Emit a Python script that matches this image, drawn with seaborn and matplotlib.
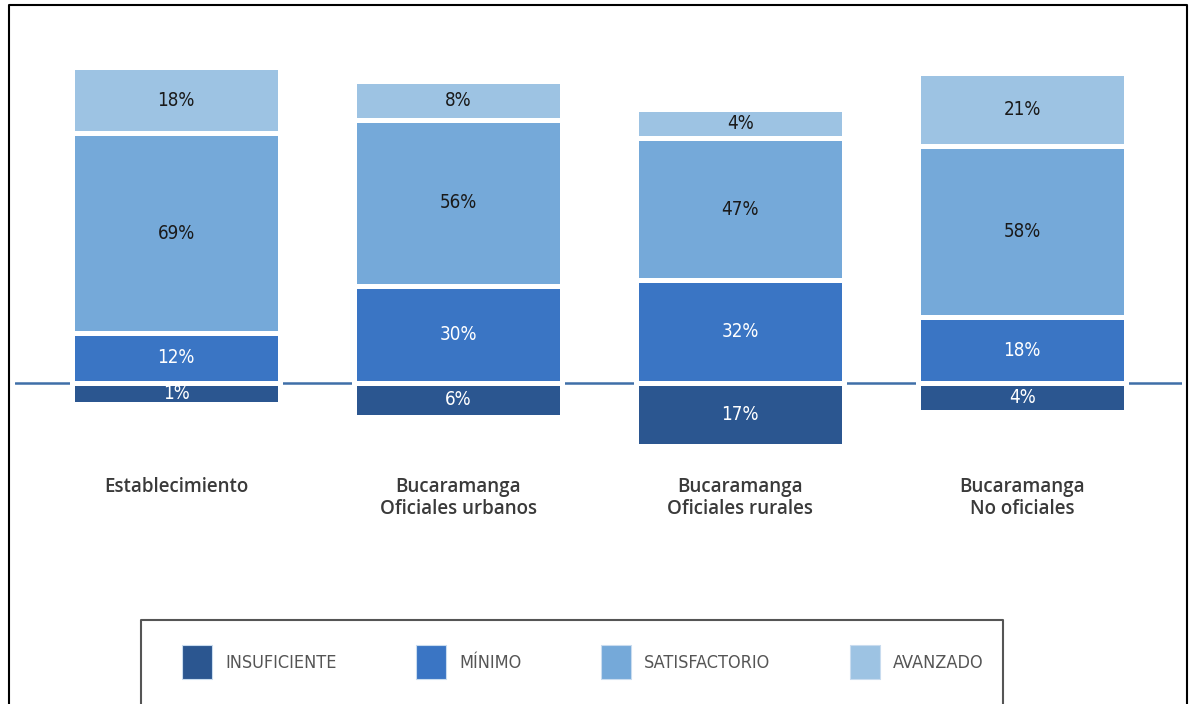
import numpy as np
import pandas as pd
import matplotlib
matplotlib.use("Agg")
import matplotlib.pyplot as plt
import seaborn as sns
from matplotlib import font_manager
from matplotlib.font_manager import FontProperties
from matplotlib.patches import Patch
from matplotlib.lines import Line2D

# ------------------------------------------
# Data (percent of students per level)
# ------------------------------------------
categorias = ["Establecimiento",
              "Bucaramanga\nOficiales urbanos",
              "Bucaramanga\nOficiales rurales",
              "Bucaramanga\nNo oficiales"]
insuficiente = [1, 6, 17, 4]
minimo = [12, 30, 32, 18]
satisfactorio = [69, 56, 47, 58]
avanzado = [18, 8, 4, 21]

niveles = ["INSUFICIENTE", "MÍNIMO", "SATISFACTORIO", "AVANZADO"]
colores = ["#2B5690", "#3A75C4", "#75A9D9", "#9DC3E3"]

# the original chart gives every segment a minimum slot on top of its value
relleno = 7.0

df = pd.DataFrame({
    "cat": categorias,
    "ins": insuficiente,
    "min": minimo,
    "sat": satisfactorio,
    "av": avanzado,
})
df["neg"] = -(df["ins"] + relleno)
df["tope_min"] = df["min"] + relleno
df["tope_sat"] = df["tope_min"] + df["sat"] + relleno
df["tope_av"] = df["tope_sat"] + df["av"] + relleno

# fonts: look for a condensed face for the numbers/legend
archivos = [f.fname for f in font_manager.fontManager.ttflist]
def buscar(clave):
    for a in archivos:
        if clave in a.replace("\\", "/").split("/")[-1]:
            return a
    return None

ruta = buscar("DejaVuSansCondensed.ttf") or buscar("LiberationSansNarrow-Regular")
if ruta:
    fp_num = FontProperties(fname=ruta)
else:
    fp_num = FontProperties(family="Roboto")

nombres = {f.name for f in font_manager.fontManager.ttflist}
etiqueta = "Open Sans" if "Open Sans" in nombres else "DejaVu Sans"

sns.set_theme(style="white")
plt.rcParams["font.family"] = ["DejaVu Sans"]

fig = plt.figure(figsize=(11.91, 7.04), dpi=100)
ax = fig.add_axes([0.0126, 0.3239, 0.98, 0.5945])

ax.axhline(0, color="#3F6FA8", lw=1.8, zorder=0)

kw = dict(width=0.737, edgecolor="white", linewidth=3.6, saturation=1,
          errorbar=None, ax=ax, zorder=2)
sns.barplot(data=df, x="cat", y="tope_av", color=colores[3], **kw)
sns.barplot(data=df, x="cat", y="tope_sat", color=colores[2], **kw)
sns.barplot(data=df, x="cat", y="tope_min", color=colores[1], **kw)
sns.barplot(data=df, x="cat", y="neg", color=colores[0], **kw)

# percentage labels centred in each segment
for i, row in df.iterrows():
    centros = [
        (row["neg"] / 2, row["ins"], "white"),
        (row["tope_min"] / 2, row["min"], "white"),
        ((row["tope_min"] + row["tope_sat"]) / 2, row["sat"], "#1a1a1a"),
        ((row["tope_sat"] + row["tope_av"]) / 2, row["av"], "#1a1a1a"),
    ]
    for y, v, c in centros:
        ax.text(i, y, f"{v}%", ha="center", va="center", color=c,
                fontproperties=fp_num, fontsize=13.5, zorder=5)

ax.set_xlim(-0.571, 3.567)
ax.set_ylim(-35.4, 123.8)
ax.set_xlabel("")
ax.set_ylabel("")
ax.set_yticks([])
for s in ax.spines.values():
    s.set_visible(False)
ax.tick_params(axis="x", length=0, pad=1)
for t in ax.get_xticklabels():
    t.set_fontfamily(etiqueta)
    t.set_fontweight("semibold")
    t.set_fontsize(13.5)
    t.set_color("#3a3a3a")
    t.set_linespacing(1.12)

# legend
fp_ley = fp_num.copy()
fp_ley.set_size(13)
handles = [Patch(facecolor=c, edgecolor="#c9dcef", lw=0.8) for c in colores]
fig.legend(handles, niveles, loc="upper left",
           bbox_to_anchor=(182 / 1191, 1 - 645 / 704),
           ncol=4, frameon=False, borderpad=0, borderaxespad=0,
           handlelength=1.67, handleheight=2.55, handletextpad=0.72,
           columnspacing=4.4,
           prop=fp_ley, labelcolor="#555555")

# outer frame and legend frame (open at the bottom)
x0, x1, y1 = 9 / 1191, 1187 / 1191, 1 - 5 / 704
fig.add_artist(Line2D([x0, x0, x1, x1], [0, y1, y1, 0],
                      transform=fig.transFigure, color="black", lw=1.5))
lx0, lx1, ly1 = 141 / 1191, 1003 / 1191, 1 - 620 / 704
fig.add_artist(Line2D([lx0, lx0, lx1, lx1], [0, ly1, ly1, 0],
                      transform=fig.transFigure, color="#555555", lw=1.5))

fig.savefig("out.png", dpi=100)
plt.close(fig)
